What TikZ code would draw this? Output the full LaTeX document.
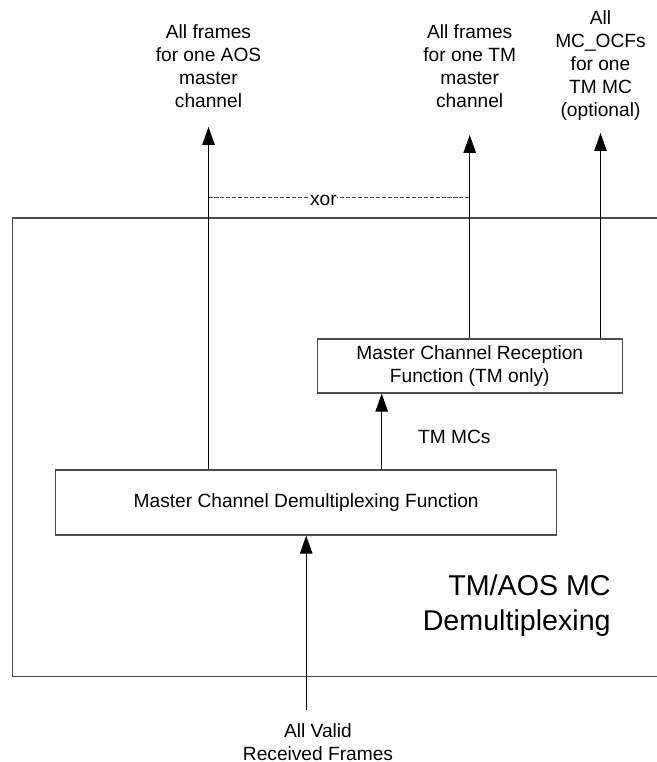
\documentclass[tikz,border=0pt]{standalone}
\usepackage{fontspec}
\setmainfont{Liberation Sans}
\usetikzlibrary{positioning,arrows.meta}

\begin{document}
\begin{tikzpicture}[font=\fontsize{10.9pt}{13.1pt}\selectfont,
  fbox/.style={draw=black!70, line width=0.7pt, align=center, inner sep=0},
  lbl/.style={align=center, inner sep=0},
  arr/.style={-{Triangle[length=3.6mm,width=2.5mm]}, line width=0.6pt}]
  \useasboundingbox (0,0) rectangle (13.14,15.24);
  % outer block, open on the right
  \draw[black!70, line width=0.7pt] (13.14,10.88) -- (0.246,10.88) -- (0.246,1.71) -- (13.14,1.71);
  \node[fbox, minimum width=10.02cm, minimum height=1.30cm] (demux) at (6.124,5.19) {Master Channel Demultiplexing Function};
  \node[fbox, minimum width=6.10cm, minimum height=1.08cm] (rec) at (9.396,7.92) {Master Channel Reception\\Function (TM only)};
  \node[lbl, anchor=north east, align=right, font=\fontsize{16.3pt}{19.9pt}\selectfont] (title) at (12.22,3.76) {TM/AOS MC\\Demultiplexing};

  % outputs
  \coordinate (aostip) at (4.17,12.70);
  \coordinate (tmtip) at (9.394,12.54);
  \coordinate (ocftip) at (12.01,12.58);
  \node[lbl, above=0.38cm of aostip] (aos) {All frames\\for one AOS\\master\\channel};
  \node[lbl, above=0.54cm of tmtip] (tm) {All frames\\for one TM\\master\\channel};
  \node[lbl, above=0.24cm of ocftip] (ocf) {All\\MC\_OCFs\\for one\\TM MC\\(optional)};
  \draw[arr] (demux.north -| aostip) -- (aostip);
  \draw[arr] (rec.north -| tmtip) -- (tmtip);
  \draw[arr] (rec.north -| ocftip) -- (ocftip);

  % xor between the two frame outputs
  \coordinate (xorline) at (0,11.30);
  \draw[black!70, dash pattern=on 2.3pt off 1.1pt] (aostip |- xorline) -- node[pos=0.44, fill=white, text=black, inner sep=0.4pt, yshift=-0.06cm] (xor) {xor} (tmtip |- xorline);

  % TM MCs
  \coordinate (mc) at ([xshift=1.3cm]rec.south west);
  \draw[arr] (demux.north -| mc) -- node[lbl, pos=0.435, right=0.72cm] (mcs) {TM MCs} (mc);

  % input
  \coordinate (in) at (6.124,1.04);
  \draw[arr] (in) -- (demux.south);
  \node[lbl, anchor=north] (inlbl) at (6.36,0.78) {All Valid\\Received Frames};
\end{tikzpicture}
\end{document}
